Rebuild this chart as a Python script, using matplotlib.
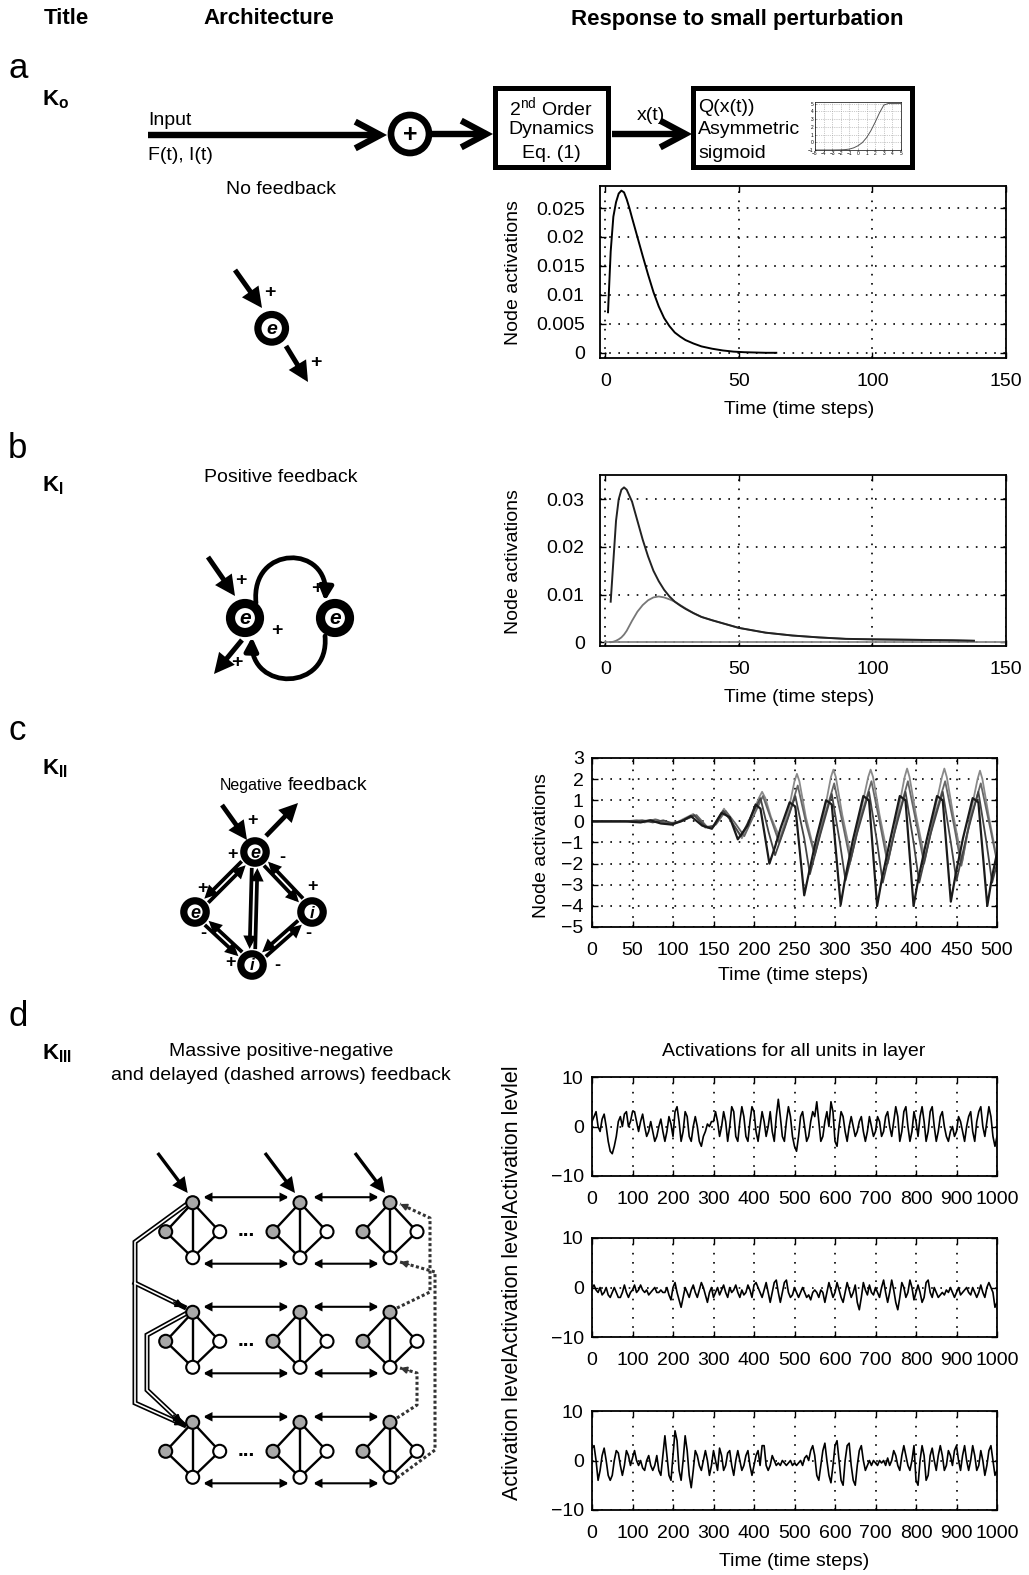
import numpy as np
import matplotlib
matplotlib.use('Agg')
import matplotlib.pyplot as plt
from matplotlib.patches import Circle, FancyArrowPatch, Rectangle
from matplotlib.path import Path

plt.rcParams['font.family'] = ['Liberation Sans', 'DejaVu Sans']
plt.rcParams['mathtext.fontset'] = 'custom'
plt.rcParams['mathtext.rm'] = 'Liberation Sans'
plt.rcParams['mathtext.bf'] = 'Liberation Sans:bold'
plt.rcParams['mathtext.it'] = 'Liberation Sans:italic'

# ---- data -------------------------------------------------------------
# asymmetric sigmoid shown in the Q(x(t)) block
sig_x = [-5, -3, -2, -1.5, -1, -0.5, 0, 0.5, 1, 1.5, 2, 2.5, 3, 3.5, 4, 5]
sig_y = [-1, -1, -0.98, -0.95, -0.88, -0.72, -0.45, -0.05, 0.6, 1.5, 2.6, 3.8, 4.8, 5, 5, 5]

# K0 response
k0_t = [1, 2, 3, 4, 5, 6, 7, 8, 9, 10, 12, 14, 16, 18, 20, 22, 24, 26, 28, 30,
        33, 36, 40, 44, 48, 52, 56, 60, 64]
k0_v = [0.0070, 0.0175, 0.0235, 0.0260, 0.0275, 0.0280, 0.0277, 0.0265, 0.0250,
        0.0233, 0.0200, 0.0167, 0.0135, 0.0105, 0.0080, 0.0060, 0.0046, 0.0035,
        0.0028, 0.0022, 0.0016, 0.0011, 0.0007, 0.0004, 0.0002, 0.0001, 0.00005,
        0.0, 0.0]

# KI response (two excitatory nodes plus the flat input trace)
k1_t = [2, 3, 4, 5, 6, 7, 8, 10, 12, 14, 16, 18, 20, 22, 24, 26, 28, 30, 33, 36,
        40, 45, 50, 55, 60, 70, 80, 90, 100, 115, 130, 138]
k1_e1 = [0.0085, 0.0170, 0.0255, 0.0300, 0.0320, 0.0325, 0.0320, 0.0295, 0.0255,
         0.0215, 0.0180, 0.0150, 0.0128, 0.0110, 0.0096, 0.0085, 0.0077, 0.0070,
         0.0061, 0.0053, 0.0046, 0.0038, 0.0030, 0.0025, 0.0020, 0.0014, 0.0010,
         0.0007, 0.0006, 0.0005, 0.0004, 0.0003]
k1_e2 = [0.0, 0.0001, 0.0003, 0.0006, 0.0010, 0.0016, 0.0024, 0.0045, 0.0064,
         0.0078, 0.0088, 0.0094, 0.0096, 0.0094, 0.0090, 0.0085, 0.0078, 0.0071,
         0.0061, 0.0053, 0.0046, 0.0038, 0.0030, 0.0025, 0.0020, 0.0014, 0.0010,
         0.0007, 0.0006, 0.0005, 0.0004, 0.0003]
k1_base_t = [0, 150]
k1_base_v = [0, 0]

# KII response, four nodes
k2_a_t = [0, 40, 60, 72, 85, 98, 110, 122, 136, 148, 160, 170, 180, 192, 202, 208,
          219, 226, 233, 244, 251, 262, 268, 277, 289, 296, 307, 313, 322, 335, 342,
          352, 358, 368, 380, 387, 397, 403, 413, 426, 433, 443, 449, 458, 470, 477,
          488, 494, 500]
k2_a_v = [0, 0, -0.05, 0.05, -0.1, -0.15, 0.0, 0.25, -0.2, -0.35, 0.4, 0.2, -0.85,
          -0.2, 0.8, 0.6, -2.0, -1.2, -0.3, 0.9, 0.7, -3.5, -2.4, -0.8, 1.0, 0.8,
          -3.95, -2.6, -0.9, 1.2, 1.0, -4.0, -2.7, -0.9, 1.2, 1.0, -4.0, -2.7, -0.9,
          1.2, 1.0, -3.8, -2.5, -0.8, 1.1, 0.9, -4.0, -2.6, -1.5]
k2_b_t = [0, 40, 55, 65, 78, 90, 100, 112, 125, 140, 150, 163, 175, 185, 197, 206,
          210, 214, 221, 232, 243, 250, 253, 256, 264, 275, 287, 295, 298, 301, 309,
          320, 332, 341, 344, 347, 355, 366, 378, 386, 389, 392, 400, 411, 423, 432,
          435, 438, 446, 457, 468, 476, 479, 482, 490, 500]
k2_b_v = [0, 0, 0.05, -0.05, 0.1, -0.1, -0.15, 0.1, 0.35, -0.3, -0.2, 0.6, -0.2,
          -0.8, 0.3, 1.1, 1.4, 1.1, 0.2, -0.8, 0.6, 1.9, 2.25, 1.9, 0.2, -1.5, 0.5,
          2.1, 2.45, 2.1, 0.3, -1.7, 0.5, 2.1, 2.45, 2.1, 0.3, -1.8, 0.5, 2.1, 2.5,
          2.1, 0.3, -1.8, 0.5, 2.1, 2.5, 2.1, 0.3, -1.9, 0.5, 2.0, 2.4, 2.0, 0.2, -1.8]
k2_c_t = [0, 40, 62, 75, 88, 100, 113, 126, 140, 150, 162, 172, 184, 196, 208, 218,
          226, 238, 251, 262, 269, 282, 296, 306, 313, 327, 342, 352, 359, 373,
          387, 397, 404, 418, 433, 443, 450, 463, 477, 487, 494, 500]
k2_c_v = [0, 0, 0.05, -0.05, 0.05, -0.1, 0.05, 0.3, -0.25, -0.25, 0.5, 0.0, -0.7,
          0.2, 1.1, -0.5, -1.6, -0.3, 1.2, -0.8, -2.5, -0.6, 1.3, -1.0, -2.8,
          -0.6, 1.4, -1.0, -2.9, -0.6, 1.4, -1.0, -2.9, -0.6, 1.4, -1.0, -2.8,
          -0.6, 1.4, -1.0, -2.9, -2.0]
k2_d_t = [0, 40, 65, 80, 92, 104, 116, 129, 143, 153, 165, 177, 188, 200, 211, 222,
          231, 242, 254, 265, 275, 286, 299, 310, 319, 331, 345, 356, 365, 377,
          390, 401, 410, 422, 436, 447, 456, 467, 480, 491, 500]
k2_d_v = [0, 0, 0.03, 0.08, -0.08, -0.05, 0.1, 0.3, -0.3, -0.15, 0.5, -0.1, -0.7,
          0.3, 1.2, 0.0, -1.0, 0.2, 1.7, -0.2, -1.6, 0.1, 1.8, -0.2, -1.9, 0.1,
          1.9, -0.2, -2.0, 0.1, 1.9, -0.2, -2.0, 0.1, 1.9, -0.2, -2.1, 0.1, 1.8,
          -0.2, -1.9]

# KIII activations, one sample every 5 steps from 0 to 1000
k3_t = np.arange(0, 1001, 5)
k3_layer1 = [1, 2, 3, 0, -1, 1.5, 2.5, 0, -3, -5, -5.5, -4, -2, 1, 2, 0, 2.5, 3, 0, 1, 3,
             3, 1, -1, 1, 2.5, 0, -2, -1, 1, -1, -3, -2, 0, 1.5, -1, -3, -1, 2, 0.5, -2,
             3, 4, 1, -3, -1, 3, 2, -2, -3, 0, 2, 0, -3, -4, -2, -1, 0.5, 0, 1, 1,
             3, 1, -2, 0, 3, 1, -3, 0, 4, 3, -2, -3, 1, 4, 2, -2, -3, 1, 4, 3,
             -1, -3, 0, 3, 1, -2, 0, 3, -1, -3, 2, 5.5, 2, -2, -3, 1, 4, 2, -2, -4,
             -5, -2, 2, 3, 0, -3, -2, 1, 3, 2, 5, 1, -3, -2, 1, 3, 0, 5, 3, -3,
             -4, 0, 3, 2, -1, -3, 0, 2, 0, -2, -1, 1, 2, -1, -3, -1, 2, 0, -2, -1,
             2, 1, -2, -1, 2, 3, 0, -2, 1, 4, 2, -3, -1, 3, 4, 0, -3, -1, 3, 1,
             -2, 2, 4, 1, -3, -1, 3, 4, 0, -3, -1, 2, 3, 0, -2, -3, -1, 0, -2, -1,
             2, 1, -1, -3, 0, 2, 3, -1, -3, 1, 3, 4, 0, -2, 1, 4, 2, -2, -4, -2]
k3_layer2 = [0, 0.5, -0.5, -1, 0, -1.5, -1, 0, -1.5, -2, -1, 0, -1, -2, -2, -1, 0.5, -1, -2, -1, -0.5,
             0.5, -1, -0.5, 0.5, -0.5, -1, -0.5, -1.5, -1, -0.5, 0, -1, -1, -0.5, -1, -1, 0, -1.5, -2.5, 0,
             1, -1, -2.5, -4, -2, 0, -1, -2, -0.5, 0.5, -1, -2, -0.5, 1, 0, -1.5, -3, -1, 0, -2,
             -1, 0, -1.5, -0.5, 0.5, -1, -2, 0, -1, -0.5, 0.5, -1, -2, -0.5, -1.5, -1, 0.5, -0.5, -2, 0.5,
             1, 0, -1, -2, -0.5, 1, -1, -3, -1, 1, 1.5, -1, -3, -1, 1, 1.5, -1, -2, -1.5, 0,
             -1, -2, -1, 0, -1, -2, -1.5, -2.5, -1, -0.5, -1, -2, -0.5, -1, -3, -1, 1, -0.5, -2, -1,
             1, -0.5, -2, -3, -1, 1, -0.5, -2, -1, 0.5, -3, -4.5, -2, 1, -0.5, -1.5, 0.5, -1, -1.5, 0,
             -1, -2, 0, 1.5, -1, -3, -1, 1.5, -0.5, -3, -4.5, -2, 1, 0, -2, -1, 1.5, 0, -2.5, -1,
             0.5, -1, -3, -2, 1, 1.5, -1, -2, 0, -1, -2, -1.5, -1, -1.5, -0.5, -1, 0, -1, -2, -1,
             0, -1.5, -1, -0.5, 0, -1, -1.5, 0, -1, -2, -1, 0.5, -1, -2, 0, 1, 0, -1, -4, -3]
k3_layer3 = [2.5, 3, 0, -4, -2, 1, 2.5, 0, -3, -4, -3, 0, 2, 1.5, -1, -3, -1, 2, 1, -1, 0.5,
             2, 0, -1, 0, -1.5, -2, 0, 1, -1, -2, -1, 1, -2, -3, 1, 5, 1, -3, -4, 1,
             6, 4, -2, -4, 0, 5, 2, -3, -5.5, -2, 2, 1, -1, -2, 0, 2, 0, -3, -1, 2,
             0, -2, 2.5, 1, -2, -1, 1.5, 2, -1, -3, 0, 2, 0, -2, -1, 1, 2, -1, -3, -1,
             1, 2, -1, 3, 3, -1, -2, -1, 1, 0, -1, -0.5, -1, 0, -0.5, -1, -0.5, 0, -1, -0.5,
             -1, -0.5, 0, -1, 0.5, 1, 0, 2, 3, 1, -3, -4, -1, 2, 3.5, 0, -3, -4.5, -1, 3,
             4, 0, -4, -5, 0, 3, 3.5, -1, -4, -5, -1, 2, 3, 0, -2, -1, 0, -1, 0, -0.5,
             -1, 0, -0.5, 0, -1, 0.5, -1, 0, 2, 1, -1, -2, 1, 3, 1, -1, -2, 0, 3, -4,
             -5, 0, 3, 1, -4, -3, 1, 2.5, 0, -2, 1, 3, 1, -2, -1, 2, 1, -1, 2, 3,
             0, -2, 1, 3, 0, -2, 0, 3, 1, -2, -1, 2, 0, -3, -1, 2, 3, 0, -3, -2]

# ---- figure and drawing canvas (pixel coordinates) --------------------
W, H = 1029, 1575
fig = plt.figure(figsize=(W / 100, H / 100), dpi=100)
cv = fig.add_axes([0, 0, 1, 1])
cv.set_xlim(0, W)
cv.set_ylim(H, 0)
cv.axis('off')

FS = 14


def box(l, t, r, b):
    return fig.add_axes([l / W, 1 - b / H, (r - l) / W, (b - t) / H])


def arrow(p0, p1, lw=3.0, ms=20, style='-|>', color='k', z=3):
    cv.add_patch(FancyArrowPatch(p0, p1, arrowstyle=style, mutation_scale=ms, lw=lw,
                                 color=color, shrinkA=0, shrinkB=0, zorder=z,
                                 joinstyle='miter', capstyle='butt'))


def ring(x, y, r, lw, label=None, fs=11):
    cv.add_patch(Circle((x, y), r, facecolor='white', edgecolor='k', lw=lw, zorder=5))
    if label:
        cv.text(x, y + 1, label, ha='center', va='center', fontsize=fs,
                fontweight='bold', fontstyle='italic', zorder=6)


def sign(x, y, s, fs=14):
    cv.text(x, y, s, ha='center', va='center', fontsize=fs, fontweight='bold', zorder=6)


def double_edge(a, b, off=2.8, shrink=16, lw=2.7, ms=13):
    a = np.array(a, float)
    b = np.array(b, float)
    d = (b - a) / np.linalg.norm(b - a)
    n = np.array([-d[1], d[0]])
    p0, p1 = a + d * shrink, b - d * shrink
    arrow(p0 + n * off, p1 + n * off, lw=lw, ms=ms)
    arrow(p1 - n * off, p0 - n * off, lw=lw, ms=ms)


def hollow_path(pts):
    xs, ys = zip(*pts)
    cv.plot(xs, ys, color='k', lw=3.6, solid_joinstyle='miter', zorder=3)
    end = np.array(pts[-1], float)
    prev = np.array(pts[-2], float)
    d = (end - prev) / np.linalg.norm(end - prev)
    inner = list(pts[:-1]) + [tuple(end - d * 9)]
    xi, yi = zip(*inner)
    cv.plot(xi, yi, color='white', lw=1.2, zorder=3.2)
    arrow(tuple(end - d * 12), tuple(end), lw=1.0, ms=13, z=3.4)


def dotted_path(pts):
    xs, ys = zip(*pts)
    cv.plot(xs, ys, color='#333333', lw=2.2, linestyle=(0, (1, 0.8)), zorder=3)
    end = np.array(pts[-1], float)
    prev = np.array(pts[-2], float)
    d = (end - prev) / np.linalg.norm(end - prev)
    arrow(tuple(end - d * 10), tuple(end), lw=1.0, ms=11, color='#333333', z=3.4)


# ---- column headers and panel letters --------------------------------
hdr = dict(fontsize=16, fontweight='bold', ha='center', va='center')
cv.text(66, 19, 'Title', **hdr)
cv.text(269, 19, 'Architecture', **hdr)
cv.text(737, 19, 'Response to small perturbation', **hdr)
for s, y in [('a', 68), ('b', 449), ('c', 730), ('d', 1017)]:
    cv.text(8, y, s, fontsize=25, ha='left', va='center')
for s, y in [(r'$\mathbf{K}_{\mathbf{o}}$', 100), (r'$\mathbf{K}_{\mathbf{I}}$', 486),
             (r'$\mathbf{K}_{\mathbf{II}}$', 769), (r'$\mathbf{K}_{\mathbf{III}}$', 1054)]:
    cv.text(42, y, s, fontsize=16, ha='left', va='center')

# ---- K0 block chain --------------------------------------------------
chev = '->,head_length=0.6,head_width=0.32'
arrow((148, 135), (387, 135), lw=4.6, ms=30, style=chev)
cv.text(148, 125, 'Input', fontsize=FS, ha='left', va='baseline')
cv.text(148, 156, 'F(t), I(t)', fontsize=FS, ha='left', va='center')
cv.add_patch(Circle((410, 134), 19, facecolor='white', edgecolor='k', lw=4.8, zorder=5))
cv.text(410, 135, '+', fontsize=18, fontweight='bold', ha='center', va='center', zorder=6)
arrow((432, 134), (493, 134), lw=4.6, ms=30, style=chev)
cv.add_patch(Rectangle((495, 88), 113, 79, facecolor='white', edgecolor='k', lw=3.6, zorder=4))
cv.text(551, 107, r'2$^{\mathrm{nd}}$ Order', fontsize=FS, ha='center', va='center', zorder=6)
cv.text(551, 130, 'Dynamics', fontsize=FS, ha='center', va='center', zorder=6)
cv.text(551, 153, 'Eq. (1)', fontsize=FS, ha='center', va='center', zorder=6)
arrow((612, 134), (692, 134), lw=4.6, ms=30, style=chev)
cv.text(651, 116, 'x(t)', fontsize=FS, ha='center', va='center')
cv.add_patch(Rectangle((693, 88), 219, 79, facecolor='white', edgecolor='k', lw=3.6, zorder=4))
for s, y in [('Q(x(t))', 107), ('Asymmetric', 130), ('sigmoid', 153)]:
    cv.text(698, y, s, fontsize=FS, ha='left', va='center', zorder=6)

ins = box(815, 102, 901, 150)
ins.plot(sig_x, sig_y, color='#555555', lw=0.7)
ins.set_xlim(-5, 5)
ins.set_ylim(-1, 5.2)
ins.set_xticks(range(-5, 6))
ins.set_yticks(range(-1, 6))
ins.tick_params(labelsize=3.5, length=1, pad=1, direction='in', width=0.4)
ins.grid(True, color='#999999', linestyle=':', lw=0.5)
for sp in ins.spines.values():
    sp.set_linewidth(0.5)

cv.text(281, 189, 'No feedback', fontsize=FS, ha='center', va='center')

# K0 single node
ring(271.7, 328.3, 13.8, 5.2, 'e', fs=14)
arrow((235, 270), (262, 308), lw=3.6, ms=22)
sign(270, 292, '+')
arrow((286, 346), (308, 382), lw=3.6, ms=22)
sign(316, 363, '+')

# ---- KI architecture -------------------------------------------------
cv.text(281, 478, 'Positive feedback', fontsize=FS, ha='center', va='center')
loop_top = Path([(256, 603), (250, 544), (330, 544), (325, 601)],
                [Path.MOVETO, Path.CURVE4, Path.CURVE4, Path.CURVE4])
cv.add_patch(FancyArrowPatch(path=loop_top, arrowstyle='-|>', mutation_scale=20, lw=3.4,
                             color='k', zorder=3))
loop_bot = Path([(325, 636), (330, 692), (250, 692), (252, 637)],
                [Path.MOVETO, Path.CURVE4, Path.CURVE4, Path.CURVE4])
cv.add_patch(FancyArrowPatch(path=loop_bot, arrowstyle='-|>', mutation_scale=20, lw=3.4,
                             color='k', zorder=3))
sign(317, 588, '+')
ring(245, 618, 14.5, 6.6, 'e', fs=15)
ring(335, 618, 14.5, 6.6, 'e', fs=15)
arrow((208, 557), (235, 596), lw=3.6, ms=22)
sign(241, 580, '+')
arrow((242, 640), (214, 674), lw=3.6, ms=22)
sign(237, 663, '+')
sign(277, 631, '+')

# ---- KII architecture ------------------------------------------------
cv.text(283, 790, 'Negative', fontsize=11.5, ha='right', va='baseline')
cv.text(288, 790, 'feedback', fontsize=FS, ha='left', va='baseline')
n_top, n_left, n_right, n_bot = (255, 852), (195, 912), (312, 912), (252, 965)
for a, b in [(n_top, n_left), (n_top, n_right), (n_left, n_bot), (n_right, n_bot),
             (n_top, n_bot)]:
    double_edge(a, b)
ring(*n_top, 11.2, 5.2, 'e', fs=13)
ring(*n_left, 11.2, 5.2, 'e', fs=13)
ring(*n_right, 11.2, 5.2, 'i', fs=12)
ring(*n_bot, 11.2, 5.2, 'i', fs=12)
arrow((222, 805), (247, 840), lw=3.4, ms=20)
arrow((266, 836), (298, 803), lw=3.4, ms=20)
for x, y, s in [(252, 820, '+'), (232, 855, '+'), (282, 857, '-'), (202, 888, '+'),
                (312, 887, '+'), (203, 933, '-'), (308, 933, '-'), (230, 963, '+'),
                (277, 965, '-')]:
    sign(x, y, s, fs=13)

# ---- KIII architecture -----------------------------------------------
cv.text(281, 1052, 'Massive positive-negative', fontsize=FS, ha='center', va='center')
cv.text(281, 1076, 'and delayed (dashed arrows) feedback', fontsize=FS, ha='center',
        va='center')
unit_x = [192.7, 300.0, 390.0]
unit_y = [1202.7, 1312.3, 1422.3]
for ry in unit_y:
    for cx in unit_x:
        top, left, right, bot = (cx, ry), (cx - 27, ry + 29), (cx + 27, ry + 29), (cx, ry + 55)
        for a, b in [(top, left), (top, right), (left, bot), (right, bot), (top, bot)]:
            cv.plot([a[0], b[0]], [a[1], b[1]], color='k', lw=1.7, zorder=3.5)
        for p, fc in [(top, '#a8a8a8'), (left, '#a8a8a8'), (right, 'white'), (bot, 'white')]:
            cv.add_patch(Circle(p, 6.5, facecolor=fc, edgecolor='k', lw=1.5, zorder=4))
    cv.text(246, ry + 28, '...', fontsize=15, fontweight='bold', ha='center', va='center')
    for x0, x1 in [(203, 289), (313, 379)]:
        for yy in (ry - 5.5, ry + 61):
            arrow((x0, yy), (x1, yy), lw=1.5, ms=11, style='<|-|>')
for cx in unit_x:
    arrow((cx - 35, 1153), (cx - 5, 1193), lw=2.4, ms=18)

hollow_path([(187, 1204), (135, 1242), (135, 1403), (184, 1425)])
hollow_path([(135, 1283), (184, 1307)])
hollow_path([(187, 1313), (147, 1335), (147, 1390), (182, 1423)])
dotted_path([(397, 1478), (435, 1450), (435, 1272), (400, 1262)])
dotted_path([(397, 1308), (430, 1292), (430, 1218), (400, 1204)])
dotted_path([(397, 1418), (417, 1405), (417, 1373), (400, 1368)])

# ---- response plots ---------------------------------------------------
grid_ls = (0, (1, 4.5))


def style(ax, xlim, ylim, xticks, yticks, ylabels=None, ypad=6):
    ax.set_xlim(xlim)
    ax.set_ylim(ylim)
    ax.set_xticks(xticks)
    ax.set_yticks(yticks)
    if ylabels is not None:
        ax.set_yticklabels(ylabels)
    ax.tick_params(direction='in', length=4, width=1, top=True, right=True,
                   labelsize=FS)
    ax.tick_params(axis='x', pad=11)
    ax.tick_params(axis='y', pad=ypad)
    ax.grid(True, color='k', linestyle=grid_ls, lw=1.2)
    for sp in ax.spines.values():
        sp.set_linewidth(1.3)


lab = dict(fontsize=FS, ha='center', va='center')

ax_a = box(600, 186, 1006, 358)
ax_a.plot(k0_t, k0_v, color='k', lw=1.4)
style(ax_a, (-2, 150), (-0.0009, 0.0288), [0, 50, 100, 150],
      [0, 0.005, 0.01, 0.015, 0.02, 0.025], ['0', '0.005', '0.01', '0.015', '0.02', '0.025'],
      ypad=11)
cv.text(513, 273, 'Node activations', rotation=90, **lab)
cv.text(799, 410, 'Time (time steps)', **lab)

ax_b = box(600, 475, 1006, 646)
ax_b.plot(k1_base_t, k1_base_v, color='#888888', lw=1.3)
ax_b.plot(k1_t, k1_e2, color='#777777', lw=1.3)
ax_b.plot(k1_t, k1_e1, color='#222222', lw=1.4)
style(ax_b, (-2, 150), (-0.0008, 0.0351), [0, 50, 100, 150],
      [0, 0.01, 0.02, 0.03], ['0', '0.01', '0.02', '0.03'], ypad=11)
cv.text(513, 562, 'Node activations', rotation=90, **lab)
cv.text(799, 698, 'Time (time steps)', **lab)

ax_c = box(592, 758, 997, 927)
ax_c.plot(k2_b_t, k2_b_v, color='#8a8a8a', lw=1.3)
ax_c.plot(k2_d_t, k2_d_v, color='#666666', lw=1.3)
ax_c.plot(k2_c_t, k2_c_v, color='#444444', lw=1.3)
ax_c.plot(k2_a_t, k2_a_v, color='#1a1a1a', lw=1.6)
style(ax_c, (0, 500), (-5, 3), range(0, 501, 50), range(-5, 4))
cv.text(541, 846, 'Node activations', rotation=90, **lab)
cv.text(793, 976, 'Time (time steps)', **lab)

for (t, b), layer in zip([(1077, 1176), (1238, 1337), (1411, 1510)],
                         [k3_layer1, k3_layer2, k3_layer3]):
    ax = box(592, t, 997, b)
    ax.plot(k3_t, layer, color='k', lw=1.2)
    style(ax, (0, 1000), (-10, 10), range(0, 1001, 100), [-10, 0, 10])
cv.text(794, 1051, 'Activations for all units in layer', **lab)
cv.text(513, 1283, 'Activation levelActivation levelActivation levlel', rotation=90,
        fontsize=15.5, ha='center', va='center')
cv.text(794, 1562, 'Time (time steps)', **lab)

fig.savefig('out.png', dpi=100, facecolor='white')
